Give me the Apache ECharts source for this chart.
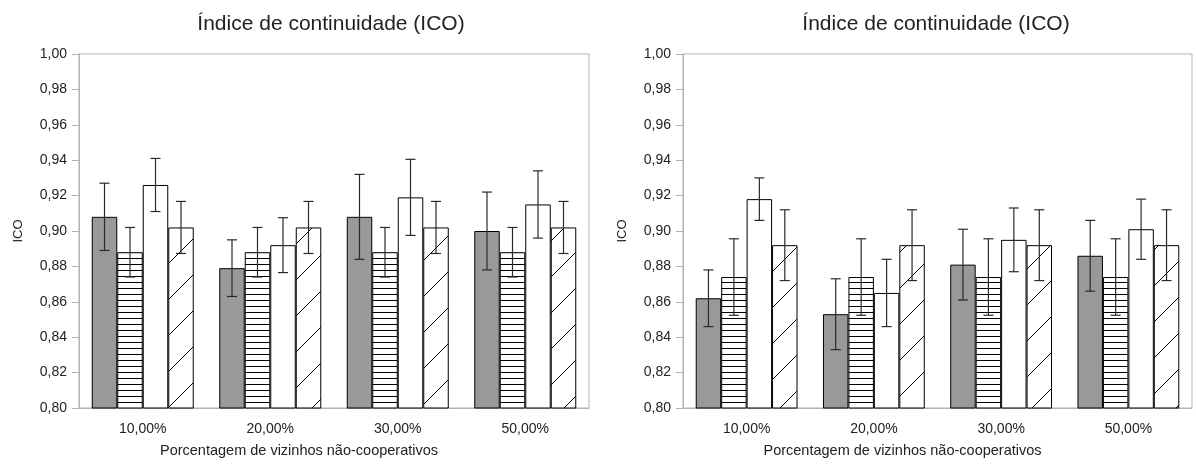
<!DOCTYPE html>
<html>
<head>
<meta charset="utf-8">
<script src="https://cdn.jsdelivr.net/npm/echarts@6/dist/echarts.min.js"></script>
<style>
  html, body { margin: 0; padding: 0; background: #fff; }
  #main { width: 1196px; height: 465px; }
</style>
</head>
<body>
<div id="main"></div>
<script>
// categorias (eixo x)
const categories = ['10,00%', '20,00%', '30,00%', '50,00%'];
const titleText = 'Índice de continuidade (ICO)';
const xName = 'Porcentagem de vizinhos não-cooperativos';
const yName = 'ICO';

// gráfico da esquerda: médias e erros
const leftGray = [0.908, 0.879, 0.908, 0.900];
const leftGrayErr = [0.019, 0.016, 0.024, 0.022];
const leftHoriz = [0.888, 0.888, 0.888, 0.888];
const leftHorizErr = [0.014, 0.014, 0.014, 0.014];
const leftWhite = [0.926, 0.892, 0.919, 0.915];
const leftWhiteErr = [0.015, 0.0155, 0.0215, 0.019];
const leftDiag = [0.902, 0.902, 0.902, 0.902];
const leftDiagErr = [0.0147, 0.0147, 0.0147, 0.0147];

// gráfico da direita
const rightGray = [0.862, 0.853, 0.881, 0.886];
const rightGrayErr = [0.016, 0.020, 0.020, 0.020];
const rightHoriz = [0.874, 0.874, 0.874, 0.874];
const rightHorizErr = [0.0216, 0.0216, 0.0216, 0.0216];
const rightWhite = [0.918, 0.865, 0.895, 0.901];
const rightWhiteErr = [0.012, 0.019, 0.018, 0.017];
const rightDiag = [0.892, 0.892, 0.892, 0.892];
const rightDiagErr = [0.020, 0.020, 0.020, 0.020];

const FONT = 'Liberation Sans';
const AXIS_GRAY = '#b3b3b3';

// padrões de preenchimento
function horizPattern() {
    const c = document.createElement('canvas');
    c.width = 6; c.height = 6;
    const ctx = c.getContext('2d');
    ctx.fillStyle = '#fff';
    ctx.fillRect(0, 0, 6, 6);
    ctx.fillStyle = '#000';
    ctx.fillRect(0, 0, 6, 1);
    return c;
}
function diagPattern() {
    const s = 36;
    const c = document.createElement('canvas');
    c.width = s; c.height = s;
    const ctx = c.getContext('2d');
    ctx.fillStyle = '#fff';
    ctx.fillRect(0, 0, s, s);
    ctx.strokeStyle = '#000';
    ctx.lineWidth = 1;
    for (const off of [-s, 0, s]) {
        ctx.beginPath();
        ctx.moveTo(off, s);
        ctx.lineTo(off + s, 0);
        ctx.stroke();
    }
    return c;
}

const fills = [
    '#999999',
    { image: horizPattern(), repeat: 'repeat' },
    '#ffffff',
    { image: diagPattern(), repeat: 'repeat' }
];

function barSeries(values, idx, g) {
    return {
        type: 'bar',
        xAxisIndex: g, yAxisIndex: g,
        data: values,
        barGap: 0,
        barCategoryGap: '20%',
        itemStyle: { color: fills[idx], borderColor: '#000', borderWidth: 1 },
        emphasis: { disabled: true },
        silent: true
    };
}

// barras de erro (custom series)
function errorSeries(groups, g) {
    const data = [];
    groups.forEach(([vals, errs], s) => {
        vals.forEach((v, i) => data.push([i, v - errs[i], v + errs[i], s]));
    });
    return {
        type: 'custom',
        xAxisIndex: g, yAxisIndex: g,
        z: 10,
        silent: true,
        data: data,
        encode: { x: 0, y: [1, 2] },
        renderItem: function (params, api) {
            const c = api.value(0);
            const band = api.size([1, 0])[0];
            const bw = band * 0.8 / 4;
            const p1 = api.coord([c, api.value(1)]);
            const p2 = api.coord([c, api.value(2)]);
            const x = p1[0] + (api.value(3) - 1.5) * bw;
            const cap = 5;
            const style = { stroke: '#2a2a2a', lineWidth: 1.2 };
            return {
                type: 'group',
                children: [
                    { type: 'line', shape: { x1: x, y1: p1[1], x2: x, y2: p2[1] }, style: style },
                    { type: 'line', shape: { x1: x - cap, y1: p1[1], x2: x + cap, y2: p1[1] }, style: style },
                    { type: 'line', shape: { x1: x - cap, y1: p2[1], x2: x + cap, y2: p2[1] }, style: style }
                ]
            };
        }
    };
}

function xAxis(g) {
    return {
        type: 'category', gridIndex: g, data: categories,
        name: xName, nameLocation: 'middle', nameGap: 35,
        // título do eixo centrado na área do gráfico, não só no plot
        nameTextStyle: { fontFamily: FONT, fontSize: 14.5, color: '#222', padding: [0, 70, 0, 0] },
        axisLine: { lineStyle: { color: AXIS_GRAY } },
        axisTick: { length: 6, lineStyle: { color: AXIS_GRAY } },
        axisLabel: { fontFamily: FONT, fontSize: 14, color: '#222', margin: 14 }
    };
}
function yAxis(g) {
    return {
        type: 'value', gridIndex: g, min: 0.8, max: 1.0, interval: 0.02,
        name: yName, nameLocation: 'middle', nameGap: 54,
        nameTextStyle: { fontFamily: FONT, fontSize: 13, color: '#222' },
        axisLine: { show: true, lineStyle: { color: AXIS_GRAY } },
        axisTick: { show: true, length: 7, lineStyle: { color: AXIS_GRAY } },
        splitLine: { show: false },
        axisLabel: {
            fontFamily: FONT, fontSize: 14, color: '#222', margin: 12,
            formatter: v => v.toFixed(2).replace('.', ',')
        }
    };
}

const chart = echarts.init(document.getElementById('main'));
chart.setOption({
    animation: false,
    backgroundColor: '#fff',
    title: [
        { text: titleText, left: 326, top: 9, textAlign: 'center',
          textStyle: { fontFamily: FONT, fontSize: 21, fontWeight: 'normal', color: '#222' } },
        { text: titleText, left: 931, top: 9, textAlign: 'center',
          textStyle: { fontFamily: FONT, fontSize: 21, fontWeight: 'normal', color: '#222' } }
    ],
    grid: [
        { left: 79, right: 607, top: 54, bottom: 57, show: true, borderColor: AXIS_GRAY, borderWidth: 1 },
        { left: 683, right: 4, top: 54, bottom: 57, show: true, borderColor: AXIS_GRAY, borderWidth: 1 }
    ],
    xAxis: [xAxis(0), xAxis(1)],
    yAxis: [yAxis(0), yAxis(1)],
    series: [
        barSeries(leftGray, 0, 0),
        barSeries(leftHoriz, 1, 0),
        barSeries(leftWhite, 2, 0),
        barSeries(leftDiag, 3, 0),
        errorSeries([[leftGray, leftGrayErr], [leftHoriz, leftHorizErr],
                     [leftWhite, leftWhiteErr], [leftDiag, leftDiagErr]], 0),
        barSeries(rightGray, 0, 1),
        barSeries(rightHoriz, 1, 1),
        barSeries(rightWhite, 2, 1),
        barSeries(rightDiag, 3, 1),
        errorSeries([[rightGray, rightGrayErr], [rightHoriz, rightHorizErr],
                     [rightWhite, rightWhiteErr], [rightDiag, rightDiagErr]], 1)
    ]
});
</script>
</body>
</html>
